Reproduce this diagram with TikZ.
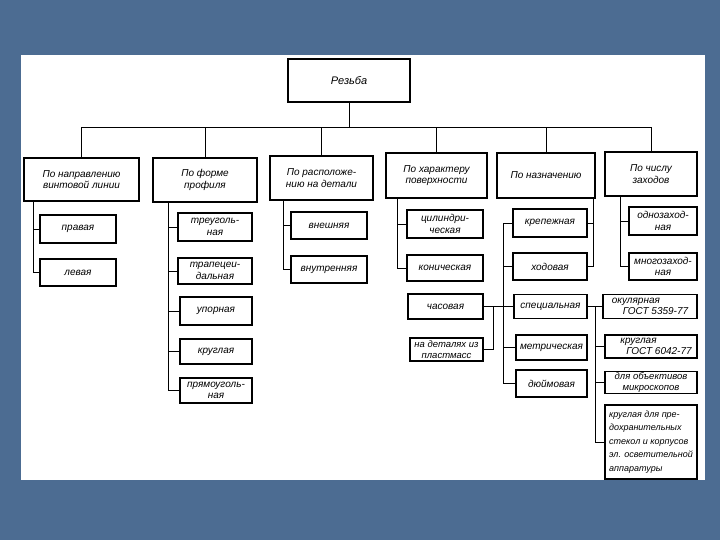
\documentclass[tikz,border=0pt]{standalone}
\usepackage{fontspec}
\setmainfont{Liberation Sans}
\definecolor{bgblue}{RGB}{76,108,146}
\newcommand{\bxn}[6]{\node[bx,minimum width=#4pt,minimum height=#5pt] (#1) at (#2,#3) {#6};}
\begin{document}
\begin{tikzpicture}[x=1pt,y=-1pt,
  bx/.style={draw,line width=1.4pt,rectangle,inner sep=1pt,align=center,
    font=\fontsize{10}{11.5}\selectfont\itshape},
  ln/.style={line width=0.9pt}]
\fill[bgblue] (0,0) rectangle (720,540);
\fill[white] (21,55) rectangle (705,480);
\useasboundingbox (0,0) rectangle (720,540);
% root and level 1
\node[bx,minimum width=122pt,minimum height=43pt,font=\fontsize{11}{13}\selectfont\itshape] (root) at (349,80.5) {Резьба};
\bxn{a}{81.5}{179.5}{115}{43}{По направлению\\винтовой линии}
\bxn{b}{205}{180}{104}{44}{По форме\\профиля}
\bxn{c}{321.5}{178}{103}{44}{По расположе-\\нию на детали}
\bxn{d}{436.5}{175.5}{101}{45}{По характеру\\поверхности}
\bxn{e}{546}{175.5}{98}{45}{По назначению}
\bxn{f}{651}{174}{92}{44}{По числу\\заходов}
% group 1
\bxn{pr}{78}{229}{76}{28}{правая}
\bxn{le}{78}{272.5}{76}{27}{левая}
% group 2
\bxn{tr}{215}{227}{74}{28}{треуголь-\\ная}
\bxn{tp}{215}{271}{74}{26}{трапецеи-\\дальная}
\bxn{up}{216}{311}{72}{28}{упорная}
\bxn{kr}{216}{351.5}{72}{25}{круглая}
\bxn{pm}{216}{390.5}{72}{25}{прямоуголь-\\ная}
% group 3
\bxn{vn}{329}{225.5}{76}{27}{внешняя}
\bxn{vt}{329}{269.5}{76}{27}{внутренняя}
% group 4
\bxn{ci}{445}{224}{76}{28}{цилиндри-\\ческая}
\bxn{ko}{445}{268}{76}{26}{коническая}
\bxn{ch}{445.5}{306.5}{75}{25}{часовая}
\node[bx,minimum width=73pt,minimum height=23pt,font=\fontsize{9.5}{10.5}\selectfont\itshape] (pl) at (446.5,349.5) {на деталях из\\пластмасс};
% group 5
\bxn{kp}{550}{223}{74}{28}{крепежная}
\bxn{hd}{550}{266.5}{74}{27}{ходовая}
\bxn{sp}{550.5}{306.5}{73}{24}{специальная}
\bxn{mt}{551.5}{347.5}{71}{25}{метрическая}
\bxn{dm}{551.5}{383.5}{71}{27}{дюймовая}
% group 6
\bxn{od}{663}{221}{68}{28}{однозаход-\\ная}
\bxn{mn}{663}{266.5}{68}{27}{многозаход-\\ная}
\node[bx,align=left,minimum width=94pt,minimum height=24pt] (ok) at (650,306.5)
  {окулярная\\\hspace*{1.1em}ГОСТ 5359-77};
\node[bx,align=left,minimum width=92pt,minimum height=23pt] (kg) at (651,346.5)
  {\hspace*{1em}круглая\\\hspace*{1.6em}ГОСТ 6042-77};
\node[bx,minimum width=92pt,minimum height=21pt,font=\fontsize{9.5}{10.5}\selectfont\itshape] (ob) at (651,382.5) {для объективов\\микроскопов};
\node[bx,align=left,minimum width=92pt,minimum height=74pt,inner sep=0pt,
  font=\fontsize{9}{13.5}\selectfont\itshape] (kd) at (651,442)
  {круглая для пре-\\дохранительных\\стекол и корпусов\\эл. осветительной\\аппаратуры};
% coordinates
\coordinate (busL) at (81.5,127);
\coordinate (busR) at (651,127);
\coordinate (s1) at (33,0);
\coordinate (s2) at (168,0);
\coordinate (s3) at (283,0);
\coordinate (s4) at (397,0);
\coordinate (l5) at (503,0);
\coordinate (r5) at (593,0);
\coordinate (m5) at (493,0);
\coordinate (s6) at (620,0);
\coordinate (t6) at (595,0);
% bus
\draw[ln] (busL) -- (busR);
\draw[ln] (root.south) -- (root.south |- busL);
\foreach \n in {a,b,c,d,e,f} \draw[ln] (\n.north) -- (\n.north |- busL);
% group 1
\draw[ln] (a.south -| s1) |- (le.west);
\draw[ln] (pr.west) -- (pr.west -| s1);
% group 2
\draw[ln] (b.south -| s2) |- (pm.west);
\foreach \n in {tr,tp,up,kr} \draw[ln] (\n.west) -- (\n.west -| s2);
% group 3
\draw[ln] (c.south -| s3) |- (vt.west);
\draw[ln] (vn.west) -- (vn.west -| s3);
% group 4
\draw[ln] (d.south -| s4) |- (ko.west);
\draw[ln] (ci.west) -- (ci.west -| s4);
% group 5
\draw[ln] (e.south -| r5) |- (hd.east);
\draw[ln] (kp.east) -- (kp.east -| r5);
\draw[ln] (kp.west) -- (kp.west -| l5) |- (dm.west);
\foreach \n in {hd,mt} \draw[ln] (\n.west) -- (\n.west -| l5);
\draw[ln] (ch.east) -- (sp.west);
\draw[ln] (pl.east) -| (ch.east -| m5);
% group 6
\draw[ln] (f.south -| s6) |- (mn.west);
\draw[ln] (od.west) -- (od.west -| s6);
\draw[ln] (sp.east) -- (ok.west);
\draw[ln] (sp.east -| t6) |- (kd.west);
\foreach \n in {kg,ob} \draw[ln] (\n.west) -- (\n.west -| t6);
\end{tikzpicture}
\end{document}
